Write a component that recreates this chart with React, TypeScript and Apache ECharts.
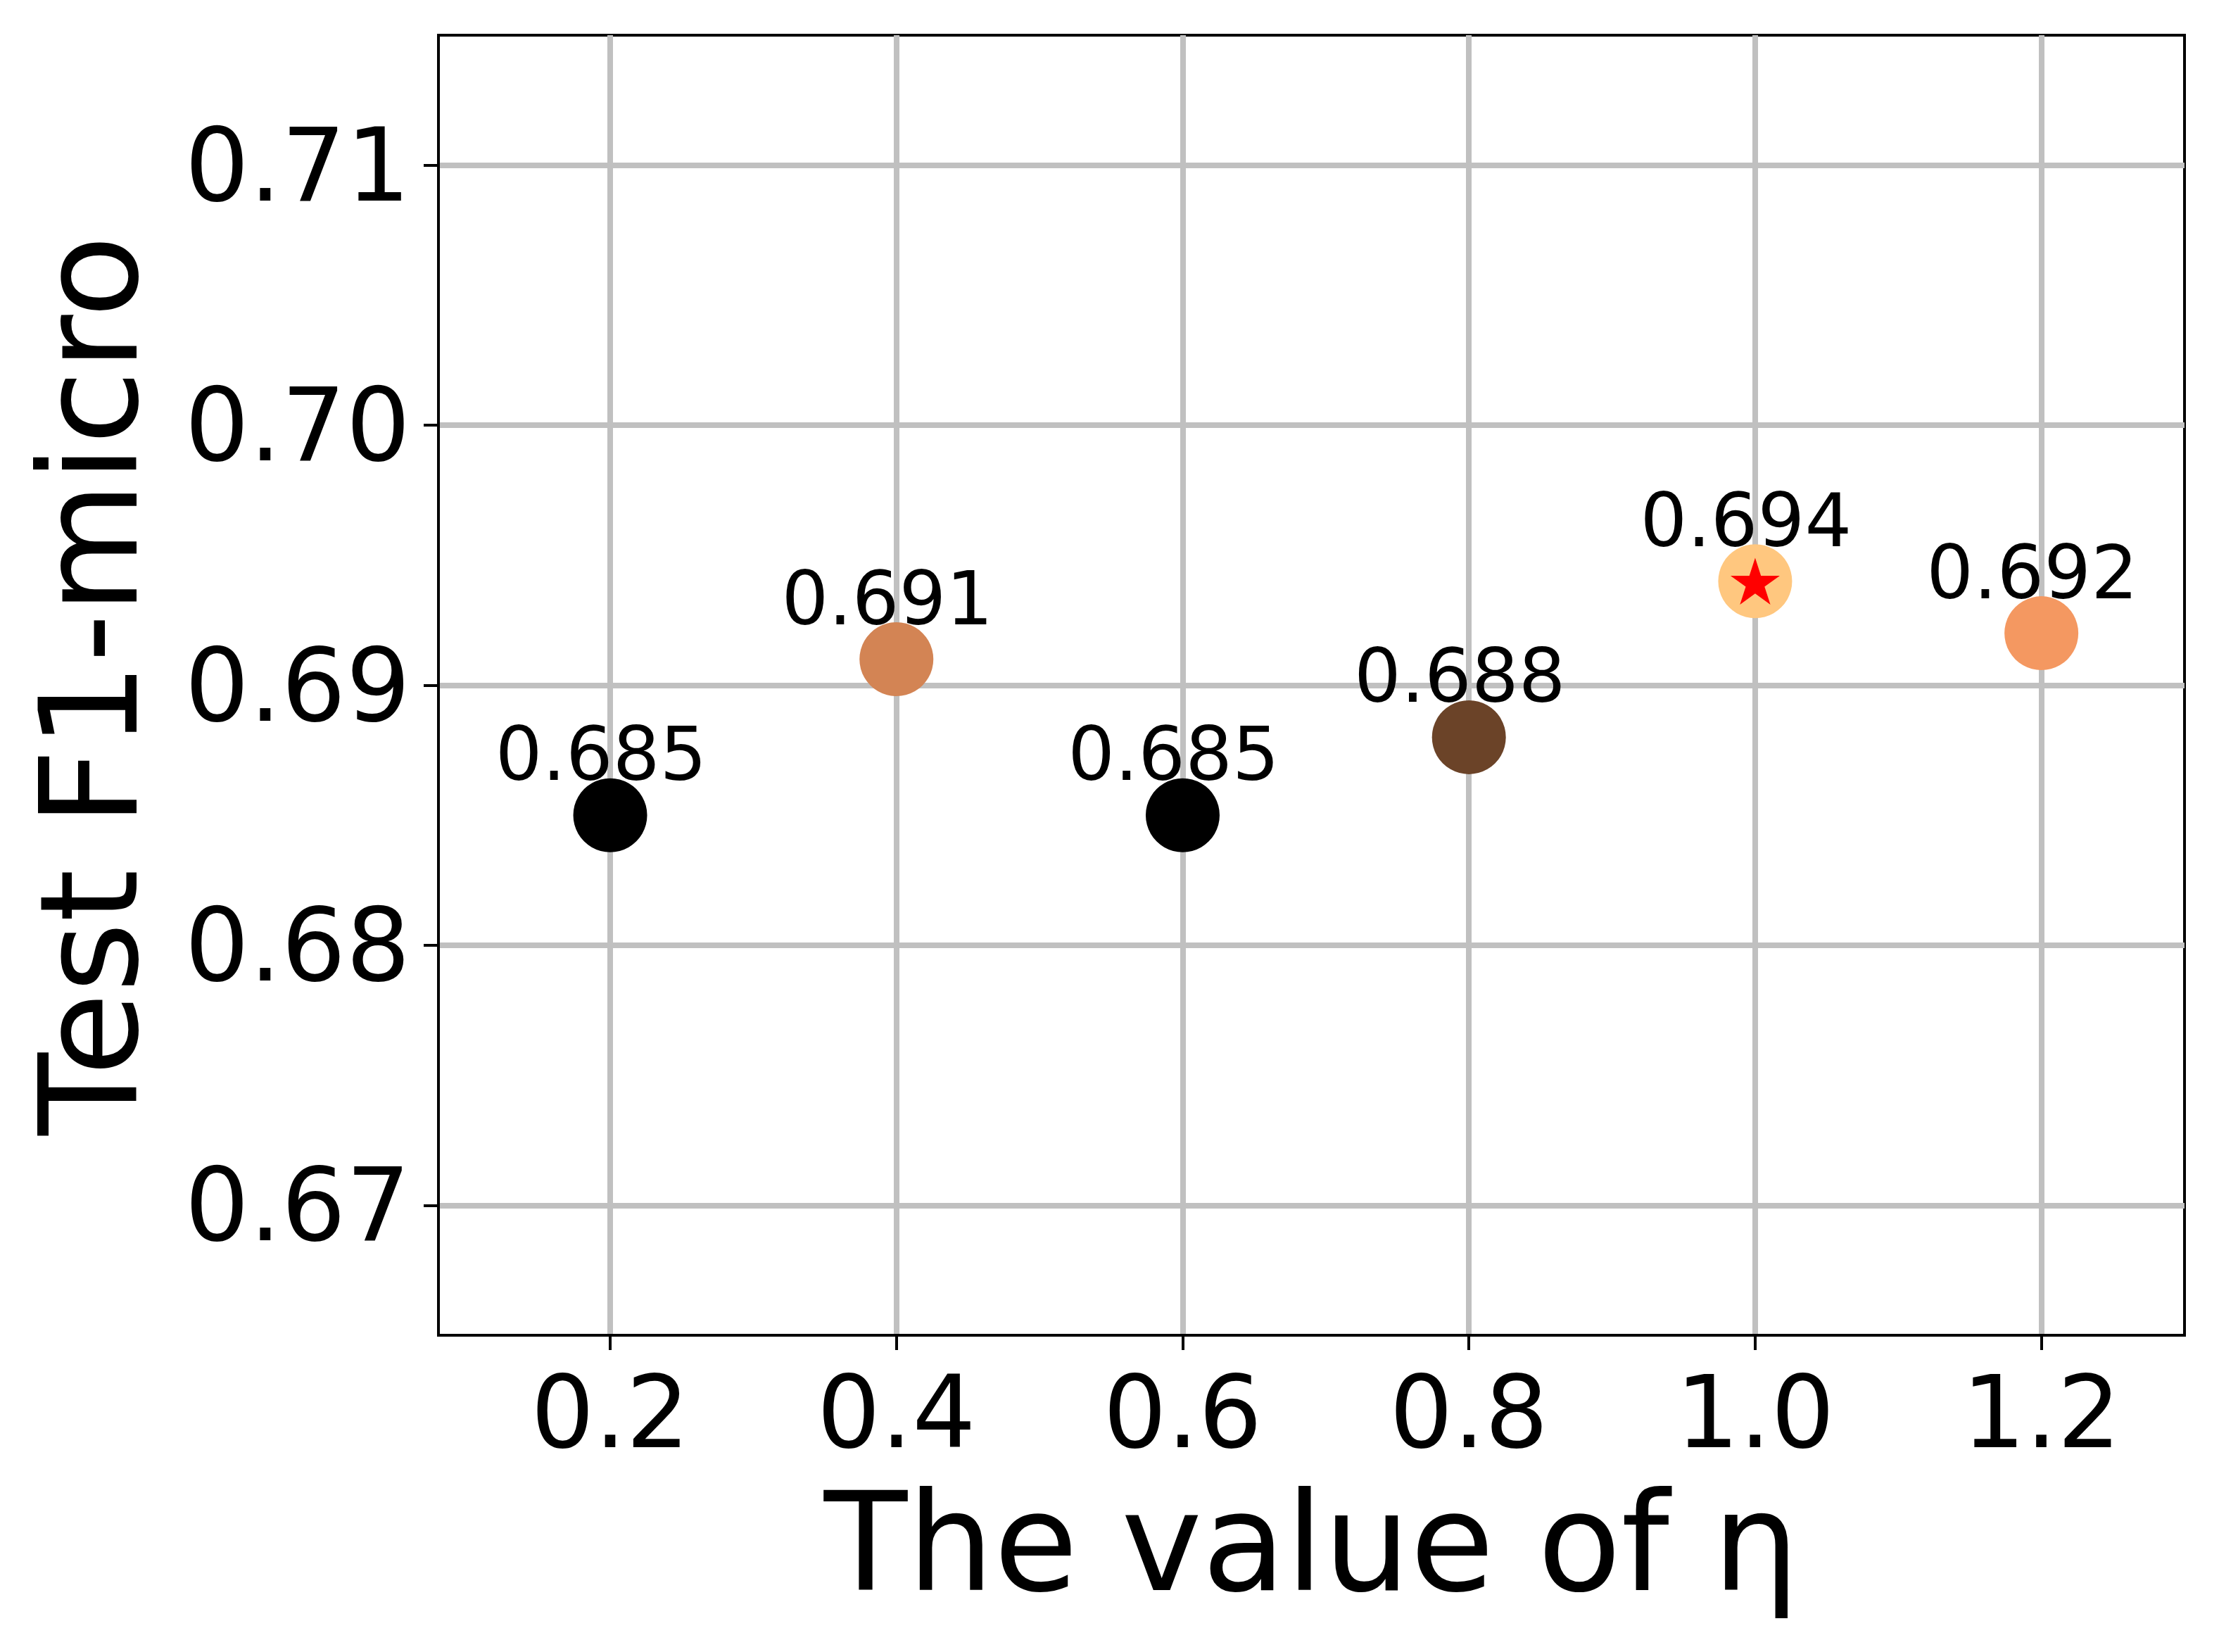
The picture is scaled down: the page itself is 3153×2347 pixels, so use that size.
import React, { useEffect, useRef } from "react";
import * as echarts from "echarts";

// ---- data ----
const etaValues = [0.2, 0.4, 0.6, 0.8, 1.0, 1.2];
const f1Micro = [0.685, 0.691, 0.685, 0.688, 0.694, 0.692];
const pointColors = ["#000000", "#D38454", "#000000", "#6B4328", "#FFC77F", "#F49861"];
const xTicks = [0.2, 0.4, 0.6, 0.8, 1.0, 1.2];
const yTicks = [0.67, 0.68, 0.69, 0.7, 0.71];
const xTitle = "The value of η";
const yTitle = "Test F1-micro";

const STAR =
  "path://M0,-1L0.2245,-0.309L0.951,-0.309L0.3633,0.118L0.588,0.809L0,0.382L-0.588,0.809L-0.3633,0.118L-0.951,-0.309L-0.2245,-0.309Z";

const FONT = "DejaVu Sans";

export default function App() {
  const ref = useRef<HTMLDivElement>(null);
  useEffect(() => {
    if (!ref.current) return;
    const chart = echarts.init(ref.current, null, { renderer: "svg" });
    const best = f1Micro.indexOf(Math.max(...f1Micro));
    chart.setOption({
      animation: false,
      backgroundColor: "#ffffff",
      grid: {
        left: 623,
        right: 49,
        top: 50,
        bottom: 450,
        show: true,
        borderColor: "#000000",
        borderWidth: 4,
        backgroundColor: "transparent",
      },
      xAxis: {
        type: "value",
        min: 0.08,
        max: 1.3,
        name: xTitle,
        nameLocation: "middle",
        nameGap: 198,
        nameTextStyle: { fontFamily: FONT, fontSize: 194, color: "#000" },
        axisLine: { show: true, lineStyle: { color: "#000", width: 4 } },
        axisTick: {
          show: true,
          length: 21,
          inside: false,
          customValues: xTicks,
          lineStyle: { color: "#000", width: 4 },
        },
        axisLabel: {
          customValues: xTicks,
          formatter: (v: number) => v.toFixed(1),
          fontFamily: FONT,
          fontSize: 142,
          color: "#000",
          margin: 38,
        },
        splitLine: { show: true, lineStyle: { color: "#c0c0c0", width: 8 } },
      },
      yAxis: {
        type: "value",
        min: 0.665,
        max: 0.715,
        name: yTitle,
        nameLocation: "middle",
        nameGap: 400,
        nameTextStyle: { fontFamily: FONT, fontSize: 192, color: "#000" },
        axisLine: { show: true, lineStyle: { color: "#000", width: 4 } },
        axisTick: {
          show: true,
          length: 21,
          inside: false,
          customValues: yTicks,
          lineStyle: { color: "#000", width: 4 },
        },
        axisLabel: {
          customValues: yTicks,
          formatter: (v: number) => v.toFixed(2),
          fontFamily: FONT,
          fontSize: 144,
          color: "#000",
          margin: 40,
        },
        splitLine: { show: true, lineStyle: { color: "#c0c0c0", width: 8 } },
      },
      series: [
        {
          type: "scatter",
          symbol: "circle",
          symbolSize: 105,
          z: 3,
          data: etaValues.map((x, i) => ({
            value: [x, f1Micro[i]],
            itemStyle: { color: pointColors[i], opacity: 1 },
          })),
          itemStyle: { opacity: 1 },
          label: {
            show: true,
            position: "inside",
            offset: [-13, -86],
            formatter: (p: any) => p.value[1].toFixed(3),
            fontFamily: FONT,
            fontSize: 105,
            color: "#000000",
            opacity: 1,
          },
          emphasis: { disabled: true },
        },
        {
          type: "scatter",
          symbol: STAR,
          symbolSize: 70,
          symbolKeepAspect: true,
          z: 5,
          silent: true,
          itemStyle: { color: "#FF0000", opacity: 1 },
          emphasis: { disabled: true },
          data: [[etaValues[best], f1Micro[best]]],
        },
      ],
    });
    return () => chart.dispose();
  }, []);
  return (
    <div
      ref={ref}
      style={{ position: "fixed", left: 0, top: 0, width: 3153, height: 2347, background: "#fff" }}
    />
  );
}
